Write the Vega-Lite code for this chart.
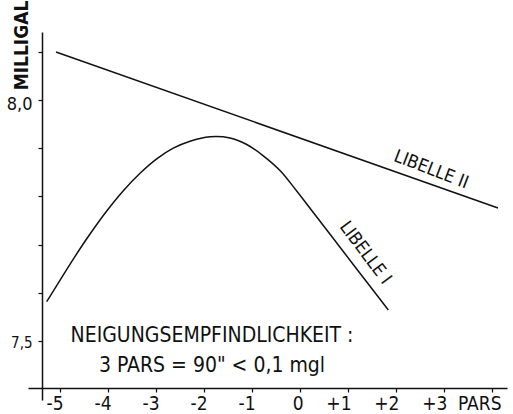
{
  "$schema": "https://vega.github.io/schema/vega-lite/v6.json",
  "autosize": "none",
  "width": 479,
  "height": 368,
  "padding": {"left": 28, "top": 32, "right": 6, "bottom": 14},
  "background": "white",
  "config": {
    "view": {"stroke": null},
    "font": "DejaVu Sans Condensed, Liberation Sans Narrow, DejaVu Sans",
    "axis": {"grid": false, "domainColor": "#111", "domainWidth": 1.5, "tickColor": "#111", "tickWidth": 1.2, "labelColor": "#111", "titleColor": "#111", "labelFont": "DejaVu Sans Condensed, Liberation Sans Narrow, DejaVu Sans", "titleFont": "DejaVu Sans Condensed, Liberation Sans Narrow, DejaVu Sans"}
  },
  "datasets": {
    "libelle1": [
      {"x": -5.277, "y": 7.5815},
      {"x": -4.723, "y": 7.6699},
      {"x": -4.375, "y": 7.7219},
      {"x": -4.027, "y": 7.7697},
      {"x": -3.681, "y": 7.8118},
      {"x": -3.333, "y": 7.8481},
      {"x": -2.985, "y": 7.878},
      {"x": -2.64, "y": 7.9},
      {"x": -2.292, "y": 7.9145},
      {"x": -1.875, "y": 7.9237},
      {"x": -1.458, "y": 7.9212},
      {"x": -1.11, "y": 7.9077},
      {"x": -0.765, "y": 7.8842},
      {"x": -0.417, "y": 7.8537},
      {"x": -0.069, "y": 7.8112},
      {"x": 0.277, "y": 7.7666},
      {"x": 0.694, "y": 7.7127},
      {"x": 1.181, "y": 7.6494},
      {"x": 1.527, "y": 7.6048},
      {"x": 1.84, "y": 7.5643}
    ],
    "libelle2": [
      {"x": -5.083, "y": 8.0996},
      {"x": 4.125, "y": 7.7759}
    ],
    "labels2": [{"x": 2.729, "y": 7.8548, "label": "LIBELLE II"}],
    "labels1": [{"x": 1.354, "y": 7.6826, "label": "LIBELLE I"}],
    "note": [{"x": -1.833, "y": 7.5104, "label": "NEIGUNGSEMPFINDLICHKEIT :\n3 PARS = 90\" < 0,1 mgl"}]
  },
  "layer": [
    {
      "data": {"name": "libelle1"},
      "mark": {"type": "line", "interpolate": "catmull-rom", "color": "#111", "strokeWidth": 1.5},
      "encoding": {
        "x": {
          "field": "x", "type": "quantitative",
          "scale": {"domain": [-5.667, 4.3125], "nice": false, "zero": false},
          "axis": {
            "orient": "bottom", "offset": -12, "title": null,
            "values": [-5, -4, -3, -2, -1, 0, 1, 2, 3, 4],
            "labelExpr": "datum.value == 4 ? 'PARS' : (datum.value > 0 ? '+' + datum.value : '' + datum.value)",
            "labelFontSize": 19, "labelPadding": 2, "tickSize": 4, "labelFlush": false, "labelOverlap": false,
            "labelAlign": "right",
            "labelOffset": {"condition": {"test": "datum.value == 4", "value": 9}, "value": 3}
          }
        },
        "y": {
          "field": "y", "type": "quantitative",
          "scale": {"domain": [7.3776, 8.141], "nice": false, "zero": false},
          "axis": {
            "orient": "left", "offset": -14,
            "values": [7.5, 7.6, 7.7, 7.8, 7.9, 8.0, 8.1],
            "labelExpr": "datum.value == 8 ? '8,0' : (datum.value == 7.5 ? '7,5' : '')",
            "labelFontSize": {"condition": {"test": "datum.value == 7.5", "value": 15}, "value": 18},
            "labelPadding": 6, "tickSize": 4,
            "labelOffset": {"condition": {"test": "datum.value == 7.5", "value": 2}, "value": 5},
            "labelFlush": false, "labelOverlap": false,
            "title": "MILLIGAL", "titleFontSize": 19, "titleFontWeight": "bold",
            "titleAngle": 270, "titleX": -21, "titleY": 13, "titleAlign": "center", "titleBaseline": "middle"
          }
        }
      }
    },
    {
      "data": {"name": "libelle2"},
      "mark": {"type": "line", "color": "#111", "strokeWidth": 1.5},
      "encoding": {
        "x": {"field": "x", "type": "quantitative"},
        "y": {"field": "y", "type": "quantitative"}
      }
    },
    {
      "data": {"name": "labels2"},
      "mark": {"type": "text", "angle": 21, "fontSize": 18, "color": "#111", "align": "center", "baseline": "middle"},
      "encoding": {
        "x": {"field": "x", "type": "quantitative"},
        "y": {"field": "y", "type": "quantitative"},
        "text": {"field": "label"}
      }
    },
    {
      "data": {"name": "labels1"},
      "mark": {"type": "text", "angle": 53, "fontSize": 18, "color": "#111", "align": "center", "baseline": "middle"},
      "encoding": {
        "x": {"field": "x", "type": "quantitative"},
        "y": {"field": "y", "type": "quantitative"},
        "text": {"field": "label"}
      }
    },
    {
      "data": {"name": "note"},
      "mark": {"type": "text", "fontSize": 21, "color": "#111", "align": "center", "baseline": "middle", "lineBreak": "\n", "lineHeight": 30},
      "encoding": {
        "x": {"field": "x", "type": "quantitative"},
        "y": {"field": "y", "type": "quantitative"},
        "text": {"field": "label"}
      }
    }
  ]
}
